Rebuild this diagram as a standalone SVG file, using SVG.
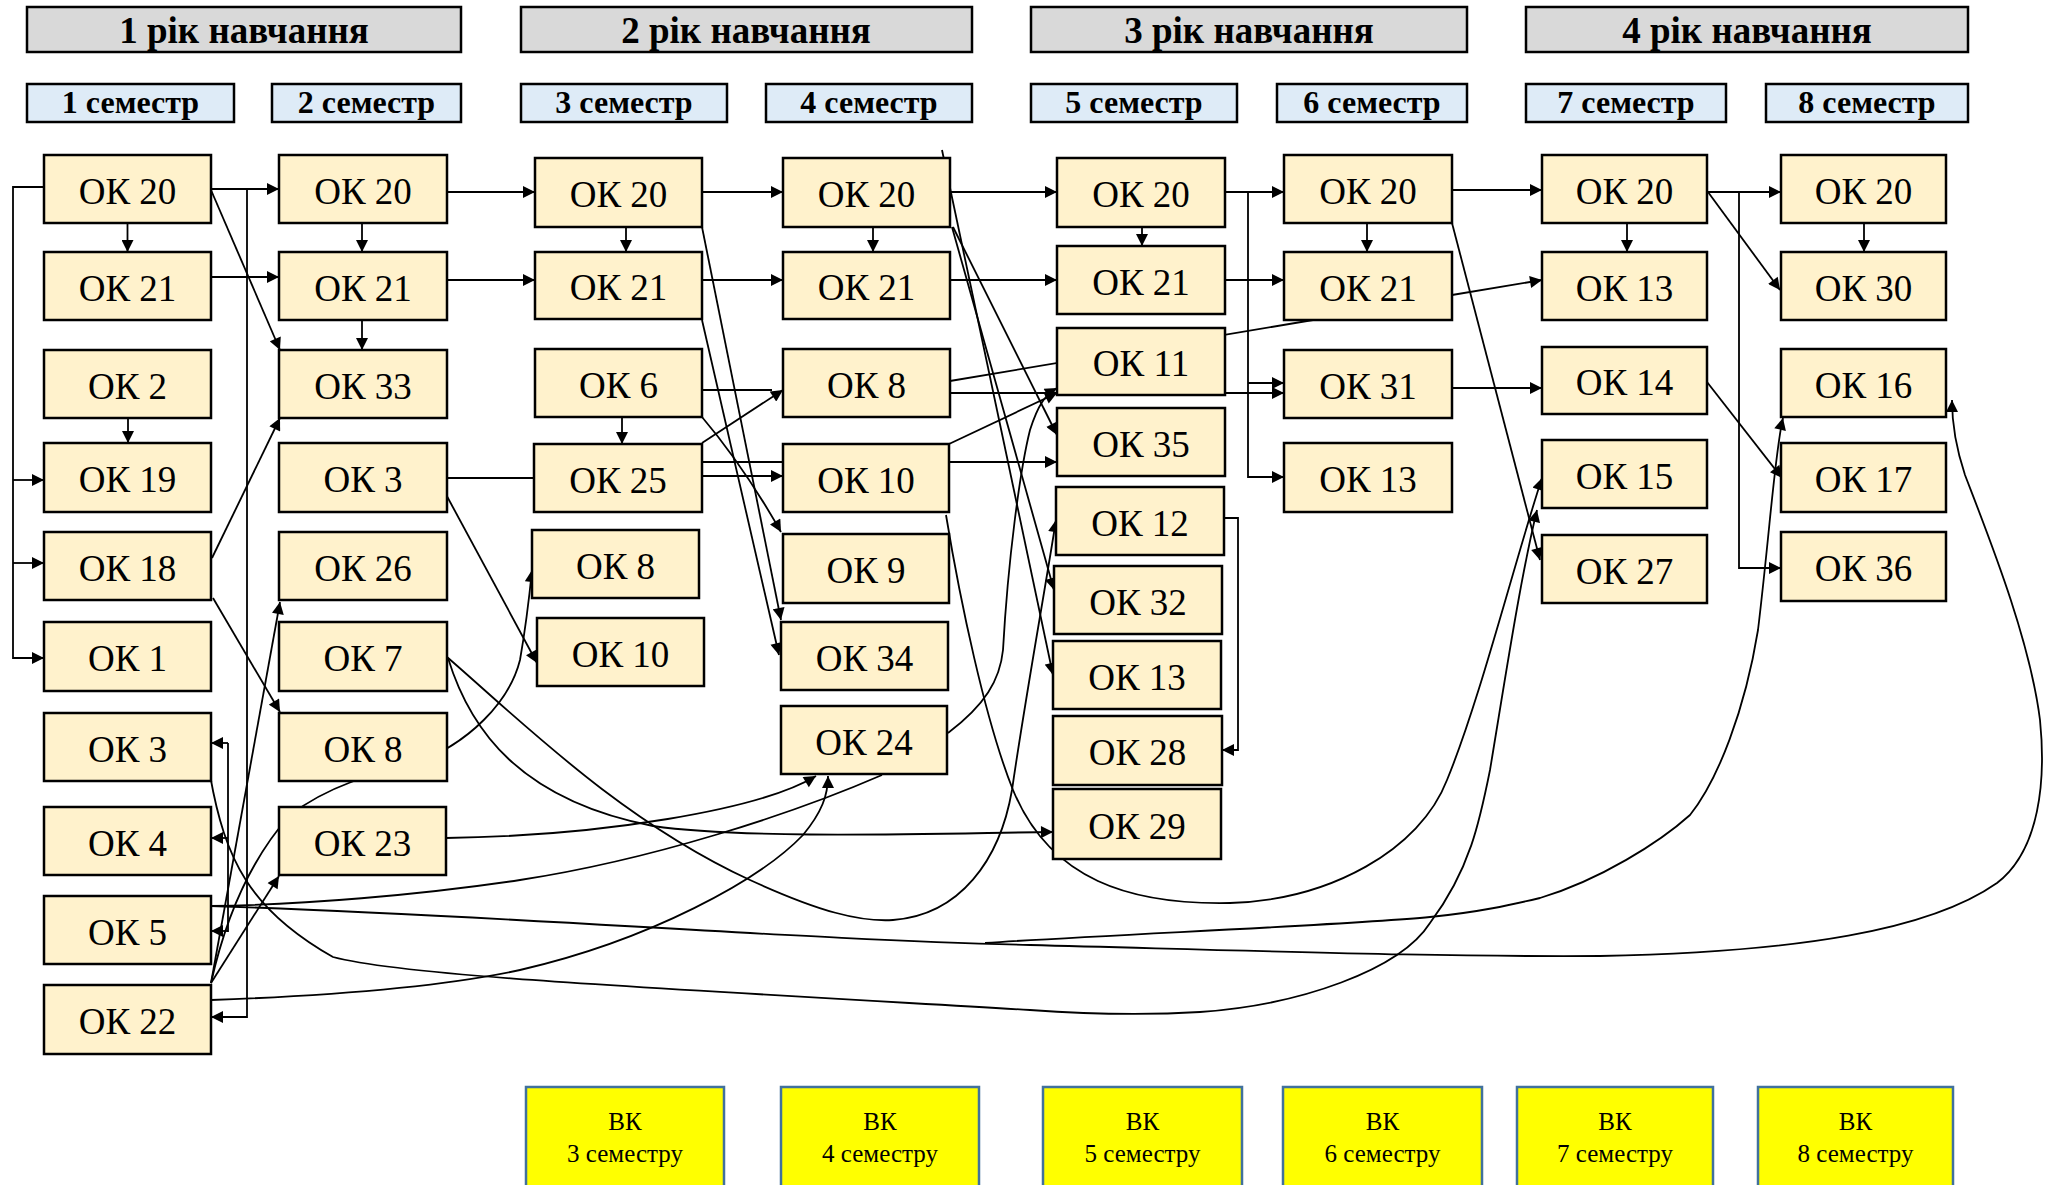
<svg xmlns="http://www.w3.org/2000/svg" width="2060" height="1185" viewBox="0 0 2060 1185">
<style>
.hdr rect{fill:#d9d9d9;stroke:#000;stroke-width:2.5}
.hdr text{font-family:"Liberation Serif",serif;font-weight:bold;font-size:37px;text-anchor:middle}
.sem rect{fill:#deebf7;stroke:#000;stroke-width:2.5}
.sem text{font-family:"Liberation Serif",serif;font-weight:bold;font-size:32px;text-anchor:middle}
.n rect{fill:#fff2cc;stroke:#000;stroke-width:2.5}
.n text{font-family:"Liberation Serif",serif;font-size:37px;text-anchor:middle}
.vk rect{fill:#ffff00;stroke:#41719c;stroke-width:2.5}
.vk text{font-family:"Liberation Serif",serif;font-size:25px;text-anchor:middle}
#edges path{fill:none;stroke:#000;stroke-width:1.8}
#edges path.a{marker-end:url(#ah)}
</style>
<defs>
<marker id="ah" viewBox="0 0 12 12" refX="12" refY="6" markerWidth="13" markerHeight="12" markerUnits="userSpaceOnUse" orient="auto"><path d="M0,0 L12,6 L0,12 z" fill="#000"/></marker>
</defs>
<rect width="2060" height="1185" fill="#fff"/>
<g id="edges">
<path class="a" d="M127.5,223 V252"/>
<path class="a" d="M211,189 H279"/>
<path class="a" d="M211,190 L280,350"/>
<path class="a" d="M211,277 H279"/>
<path class="a" d="M362,223 V252"/>
<path class="a" d="M362,320 V350"/>
<path class="a" d="M44,187 H13 V658 H44"/>
<path class="a" d="M13,480 H44"/>
<path class="a" d="M13,563 H44"/>
<path class="a" d="M128,418 V443"/>
<path class="a" d="M247,189 V1017 H211"/>
<path d="M228,743 V932"/>
<path class="a" d="M228,743 H211"/>
<path class="a" d="M228,838 H211"/>
<path class="a" d="M228,931 H211"/>
<path class="a" d="M212,558 L280,418"/>
<path class="a" d="M213,598 L280,712"/>
<path class="a" d="M447,192 H535"/>
<path class="a" d="M447,280 H535"/>
<path d="M447,478 H534"/>
<path class="a" d="M442,487 L537,663"/>
<path class="a" d="M447,657 C520,720 620,820 750,880 C820,912 860,922 893,920 C960,915 1000,860 1012,790 C1025,700 1045,590 1056,520"/>
<path class="a" d="M448,658 C470,730 520,800 653,826 C750,840 950,833 1053,832"/>
<path class="a" d="M446,838 C600,836 760,810 816,776"/>
<path class="a" d="M211,1000 C350,995 450,985 520,970 C650,940 760,880 803,835 C822,812 828,795 828,776"/>
<path d="M211,906 C300,905 420,895 520,880 C650,860 790,815 882,775"/>
<path class="a" d="M211,906 C500,915 800,940 1030,945 C1300,952 1450,957 1600,956 C1800,952 1930,930 1997,883 C2040,850 2046,780 2040,720 C2030,640 1990,540 1965,475 C1955,445 1952,420 1952,400"/>
<path class="a" d="M985,943 C1100,935 1350,925 1430,917 C1480,912 1510,905 1540,898 C1600,880 1660,842 1690,815 C1718,780 1745,710 1758,630 C1770,530 1775,450 1783,418"/>
<path class="a" d="M210,775 C225,860 250,910 333,957 C400,975 600,985 1030,1010 C1100,1015 1150,1015 1200,1012 C1300,1005 1400,970 1430,923 C1470,870 1480,820 1490,770 C1505,680 1520,580 1537,510"/>
<path class="a" d="M946,515 C960,600 985,720 1013,790 C1050,880 1130,905 1230,903 C1330,900 1420,850 1447,780 C1480,700 1515,560 1542,478"/>
<path class="a" d="M211,983 L279,876"/>
<path class="a" d="M211,983 L280,602"/>
<path class="a" d="M211,983 C225,920 250,860 290,815 C330,785 370,775 410,765 C470,745 510,700 520,660 C527,620 530,590 532,570"/>
<path class="a" d="M626,227 V252"/>
<path class="a" d="M702,192 H783"/>
<path class="a" d="M702,280 H783"/>
<path class="a" d="M873,227 V252"/>
<path d="M702,390 H772"/>
<path class="a" d="M702,443 L783,390"/>
<path class="a" d="M622,417 V444"/>
<path class="a" d="M702,417 C730,450 760,495 781,532"/>
<path class="a" d="M702,476 H783"/>
<path class="a" d="M702,462 H1057"/>
<path class="a" d="M702,227 L781,620"/>
<path class="a" d="M702,320 L779,655"/>
<path class="a" d="M950,192 H1057"/>
<path class="a" d="M950,280 H1057"/>
<path class="a" d="M1142,227 V246"/>
<path d="M950,381 L1313,320"/>
<path class="a" d="M950,393 H1284"/>
<path class="a" d="M949,444 L1057,393"/>
<path class="a" d="M948,733 C985,705 1000,680 1003,650 C1008,560 1020,470 1030,430 C1038,405 1045,395 1057,388"/>
<path class="a" d="M942,150 L1053,675"/>
<path class="a" d="M952,227 L1054,590"/>
<path class="a" d="M953,227 L1057,435"/>
<path class="a" d="M1225,192 H1284"/>
<path class="a" d="M1248,192 V477 H1284"/>
<path class="a" d="M1248,383 H1284"/>
<path class="a" d="M1225,280 H1284"/>
<path class="a" d="M1367,223 V252"/>
<path class="a" d="M1224,518 H1238 V750 H1222"/>
<path class="a" d="M1452,190 H1542"/>
<path class="a" d="M1452,295 L1542,280"/>
<path class="a" d="M1452,388 H1542"/>
<path class="a" d="M1452,223 L1540,560"/>
<path class="a" d="M1627,223 V252"/>
<path class="a" d="M1707,192 H1781"/>
<path class="a" d="M1739,192 V568 H1781"/>
<path class="a" d="M1708,192 L1780,290"/>
<path class="a" d="M1864,223 V252"/>
<path class="a" d="M1707,382 L1782,478"/>
</g>
<g id="y1" class="hdr"><rect x="27" y="7" width="434" height="45"/><text x="244" y="43">1 рік навчання</text></g>
<g id="y2" class="hdr"><rect x="521" y="7" width="451" height="45"/><text x="746" y="43">2 рік навчання</text></g>
<g id="y3" class="hdr"><rect x="1031" y="7" width="436" height="45"/><text x="1249" y="43">3 рік навчання</text></g>
<g id="y4" class="hdr"><rect x="1526" y="7" width="442" height="45"/><text x="1747" y="43">4 рік навчання</text></g>
<g id="s1" class="sem"><rect x="27" y="84" width="207" height="38"/><text x="130.5" y="113">1 семестр</text></g>
<g id="s2" class="sem"><rect x="272" y="84" width="189" height="38"/><text x="366.5" y="113">2 семестр</text></g>
<g id="s3" class="sem"><rect x="521" y="84" width="206" height="38"/><text x="624" y="113">3 семестр</text></g>
<g id="s4" class="sem"><rect x="766" y="84" width="206" height="38"/><text x="869" y="113">4 семестр</text></g>
<g id="s5" class="sem"><rect x="1031" y="84" width="206" height="38"/><text x="1134" y="113">5 семестр</text></g>
<g id="s6" class="sem"><rect x="1277" y="84" width="190" height="38"/><text x="1372" y="113">6 семестр</text></g>
<g id="s7" class="sem"><rect x="1526" y="84" width="200" height="38"/><text x="1626" y="113">7 семестр</text></g>
<g id="s8" class="sem"><rect x="1766" y="84" width="202" height="38"/><text x="1867" y="113">8 семестр</text></g>
<g id="n1_20" class="n"><rect x="44" y="155" width="167" height="68"/><text x="127.5" y="204">ОК 20</text></g>
<g id="n1_21" class="n"><rect x="44" y="252" width="167" height="68"/><text x="127.5" y="301">ОК 21</text></g>
<g id="n1_2" class="n"><rect x="44" y="350" width="167" height="68"/><text x="127.5" y="399">ОК 2</text></g>
<g id="n1_19" class="n"><rect x="44" y="443" width="167" height="69"/><text x="127.5" y="492">ОК 19</text></g>
<g id="n1_18" class="n"><rect x="44" y="532" width="167" height="68"/><text x="127.5" y="581">ОК 18</text></g>
<g id="n1_1" class="n"><rect x="44" y="622" width="167" height="69"/><text x="127.5" y="671">ОК 1</text></g>
<g id="n1_3" class="n"><rect x="44" y="713" width="167" height="68"/><text x="127.5" y="762">ОК 3</text></g>
<g id="n1_4" class="n"><rect x="44" y="807" width="167" height="68"/><text x="127.5" y="856">ОК 4</text></g>
<g id="n1_5" class="n"><rect x="44" y="896" width="167" height="68"/><text x="127.5" y="945">ОК 5</text></g>
<g id="n1_22" class="n"><rect x="44" y="985" width="167" height="69"/><text x="127.5" y="1034">ОК 22</text></g>
<g id="n2_20" class="n"><rect x="279" y="155" width="168" height="68"/><text x="363" y="204">ОК 20</text></g>
<g id="n2_21" class="n"><rect x="279" y="252" width="168" height="68"/><text x="363" y="301">ОК 21</text></g>
<g id="n2_33" class="n"><rect x="279" y="350" width="168" height="68"/><text x="363" y="399">ОК 33</text></g>
<g id="n2_3" class="n"><rect x="279" y="443" width="168" height="69"/><text x="363" y="492">ОК 3</text></g>
<g id="n2_26" class="n"><rect x="279" y="532" width="168" height="68"/><text x="363" y="581">ОК 26</text></g>
<g id="n2_7" class="n"><rect x="279" y="622" width="168" height="69"/><text x="363" y="671">ОК 7</text></g>
<g id="n2_8" class="n"><rect x="279" y="713" width="168" height="68"/><text x="363" y="762">ОК 8</text></g>
<g id="n2_23" class="n"><rect x="279" y="807" width="167" height="68"/><text x="362.5" y="856">ОК 23</text></g>
<g id="n3_20" class="n"><rect x="535" y="158" width="167" height="69"/><text x="618.5" y="207">ОК 20</text></g>
<g id="n3_21" class="n"><rect x="535" y="252" width="167" height="67"/><text x="618.5" y="300">ОК 21</text></g>
<g id="n3_6" class="n"><rect x="535" y="349" width="167" height="68"/><text x="618.5" y="398">ОК 6</text></g>
<g id="n3_25" class="n"><rect x="534" y="444" width="168" height="68"/><text x="618" y="493">ОК 25</text></g>
<g id="n3_8" class="n"><rect x="532" y="530" width="167" height="68"/><text x="615.5" y="579">ОК 8</text></g>
<g id="n3_10" class="n"><rect x="537" y="618" width="167" height="68"/><text x="620.5" y="667">ОК 10</text></g>
<g id="n4_20" class="n"><rect x="783" y="158" width="167" height="69"/><text x="866.5" y="207">ОК 20</text></g>
<g id="n4_21" class="n"><rect x="783" y="252" width="167" height="67"/><text x="866.5" y="300">ОК 21</text></g>
<g id="n4_8" class="n"><rect x="783" y="349" width="167" height="68"/><text x="866.5" y="398">ОК 8</text></g>
<g id="n4_10" class="n"><rect x="783" y="444" width="166" height="68"/><text x="866" y="493">ОК 10</text></g>
<g id="n4_9" class="n"><rect x="783" y="534" width="166" height="69"/><text x="866" y="583">ОК 9</text></g>
<g id="n4_34" class="n"><rect x="781" y="622" width="167" height="68"/><text x="864.5" y="671">ОК 34</text></g>
<g id="n4_24" class="n"><rect x="781" y="706" width="166" height="68"/><text x="864" y="755">ОК 24</text></g>
<g id="n5_20" class="n"><rect x="1057" y="158" width="168" height="69"/><text x="1141" y="207">ОК 20</text></g>
<g id="n5_21" class="n"><rect x="1057" y="246" width="168" height="68"/><text x="1141" y="295">ОК 21</text></g>
<g id="n5_11" class="n"><rect x="1057" y="328" width="168" height="67"/><text x="1141" y="376">ОК 11</text></g>
<g id="n5_35" class="n"><rect x="1057" y="408" width="168" height="68"/><text x="1141" y="457">ОК 35</text></g>
<g id="n5_12" class="n"><rect x="1056" y="487" width="168" height="68"/><text x="1140" y="536">ОК 12</text></g>
<g id="n5_32" class="n"><rect x="1054" y="566" width="168" height="68"/><text x="1138" y="615">ОК 32</text></g>
<g id="n5_13" class="n"><rect x="1053" y="641" width="168" height="68"/><text x="1137" y="690">ОК 13</text></g>
<g id="n5_28" class="n"><rect x="1053" y="716" width="169" height="69"/><text x="1137.5" y="765">ОК 28</text></g>
<g id="n5_29" class="n"><rect x="1053" y="789" width="168" height="70"/><text x="1137" y="839">ОК 29</text></g>
<g id="n6_20" class="n"><rect x="1284" y="155" width="168" height="68"/><text x="1368" y="204">ОК 20</text></g>
<g id="n6_21" class="n"><rect x="1284" y="252" width="168" height="68"/><text x="1368" y="301">ОК 21</text></g>
<g id="n6_31" class="n"><rect x="1284" y="350" width="168" height="68"/><text x="1368" y="399">ОК 31</text></g>
<g id="n6_13" class="n"><rect x="1284" y="443" width="168" height="69"/><text x="1368" y="492">ОК 13</text></g>
<g id="n7_20" class="n"><rect x="1542" y="155" width="165" height="68"/><text x="1624.5" y="204">ОК 20</text></g>
<g id="n7_13" class="n"><rect x="1542" y="252" width="165" height="68"/><text x="1624.5" y="301">ОК 13</text></g>
<g id="n7_14" class="n"><rect x="1542" y="347" width="165" height="67"/><text x="1624.5" y="395">ОК 14</text></g>
<g id="n7_15" class="n"><rect x="1542" y="440" width="165" height="68"/><text x="1624.5" y="489">ОК 15</text></g>
<g id="n7_27" class="n"><rect x="1542" y="535" width="165" height="68"/><text x="1624.5" y="584">ОК 27</text></g>
<g id="n8_20" class="n"><rect x="1781" y="155" width="165" height="68"/><text x="1863.5" y="204">ОК 20</text></g>
<g id="n8_30" class="n"><rect x="1781" y="252" width="165" height="68"/><text x="1863.5" y="301">ОК 30</text></g>
<g id="n8_16" class="n"><rect x="1781" y="349" width="165" height="68"/><text x="1863.5" y="398">ОК 16</text></g>
<g id="n8_17" class="n"><rect x="1781" y="443" width="165" height="69"/><text x="1863.5" y="492">ОК 17</text></g>
<g id="n8_36" class="n"><rect x="1781" y="532" width="165" height="69"/><text x="1863.5" y="581">ОК 36</text></g>
<g id="vk3" class="vk"><rect x="526" y="1087" width="198" height="120"/><text x="625" y="1130">ВК</text><text x="625" y="1162">3 семестру</text></g>
<g id="vk4" class="vk"><rect x="781" y="1087" width="198" height="120"/><text x="880" y="1130">ВК</text><text x="880" y="1162">4 семестру</text></g>
<g id="vk5" class="vk"><rect x="1043" y="1087" width="199" height="120"/><text x="1142.5" y="1130">ВК</text><text x="1142.5" y="1162">5 семестру</text></g>
<g id="vk6" class="vk"><rect x="1283" y="1087" width="199" height="120"/><text x="1382.5" y="1130">ВК</text><text x="1382.5" y="1162">6 семестру</text></g>
<g id="vk7" class="vk"><rect x="1517" y="1087" width="196" height="120"/><text x="1615" y="1130">ВК</text><text x="1615" y="1162">7 семестру</text></g>
<g id="vk8" class="vk"><rect x="1758" y="1087" width="195" height="120"/><text x="1855.5" y="1130">ВК</text><text x="1855.5" y="1162">8 семестру</text></g>
</svg>
